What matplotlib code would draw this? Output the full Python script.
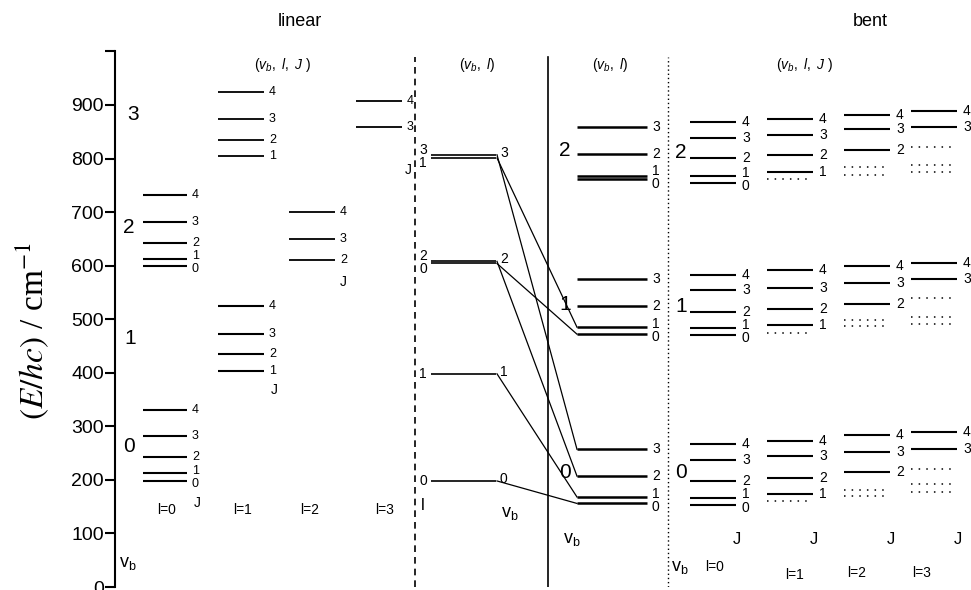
import numpy as np
import matplotlib.pyplot as plt

plt.rcParams['font.family'] = ['Liberation Sans', 'DejaVu Sans']
plt.rcParams['mathtext.fontset'] = 'custom'
plt.rcParams['mathtext.rm'] = 'Liberation Sans'
plt.rcParams['mathtext.it'] = 'Liberation Sans:italic'

# ---- linear: rotational levels (cm-1) for each (v_b, l), index = J
lin_l0_J = [0, 1, 2, 3, 4]
lin_l0_v0 = [198, 212, 243, 282, 331]
lin_l0_v2 = [599, 612, 643, 682, 732]
lin_l1_J = [1, 2, 3, 4]
lin_l1_v1 = [404, 435, 473, 525]
lin_l1_v3 = [804, 835, 873, 925]
lin_l2_J = [2, 3, 4]
lin_l2_v2 = [610, 650, 700]
lin_l3_J = [3, 4]
lin_l3_v3 = [859, 908]

# ---- linear (v_b, l) band origins
mid_v = [0, 1, 2, 2, 3, 3]
mid_l = [0, 1, 0, 2, 1, 3]
mid_E = [198, 398, 604, 608, 801, 807]

# ---- bent (v_b, K) band origins, index = K
bent_K = [0, 1, 2, 3]
bent_vb0 = [156, 168, 207, 257]
bent_vb1 = [472, 485, 524, 575]
bent_vb2 = [761, 767, 809, 859]

# ---- bent: J = 0..4 for each l (J < l drawn dotted)
bent_J = [0, 1, 2, 3, 4]
bent_l0_v0 = [154, 167, 198, 237, 267]
bent_l0_v1 = [471, 484, 513, 555, 583]
bent_l0_v2 = [754, 767, 801, 838, 869]
bent_l1_v0 = [160, 174, 204, 244, 273]
bent_l1_v1 = [475, 490, 519, 558, 591]
bent_l1_v2 = [761, 774, 806, 844, 873]
bent_l2_v0 = [170, 182, 214, 252, 283]
bent_l2_v1 = [488, 498, 529, 568, 599]
bent_l2_v2 = [769, 784, 816, 855, 881]
bent_l3_v0 = [177, 192, 220, 258, 289]
bent_l3_v1 = [491, 505, 539, 575, 604]
bent_l3_v2 = [775, 787, 821, 859, 888]

PX = 0.5356  # pixels per cm-1 (only used to place free text)


def E(py):
    return (587 - py) / PX


def spread(vals, sep=25):
    y = list(vals)
    for _ in range(40):
        for i in range(len(y) - 1):
            if y[i + 1] - y[i] < sep:
                m = (y[i] + y[i + 1]) / 2
                y[i], y[i + 1] = m - sep / 2, m + sep / 2
    return y


def levels(ax, x0, x1, vals, labels=None, lw=1.5, ls='-', lab_x=None,
           ha='left', fs=9):
    for v in vals:
        ax.plot([x0, x1], [v, v], color='black', lw=lw, ls=ls,
                solid_capstyle='butt')
    if labels is not None:
        if lab_x is None:
            lab_x = x1 + 5
        for y, t in zip(spread(vals), labels):
            ax.text(lab_x, y, str(t), fontsize=fs, ha=ha, va='center')


fig = plt.figure(figsize=(9.71, 5.90), dpi=100)
ax = fig.add_axes([115 / 971, 3 / 590, (971 - 115) / 971, 535.6 / 590])
ax.set_xlim(115, 971)
ax.set_ylim(0, 1000)
for s in ['top', 'right', 'bottom']:
    ax.spines[s].set_visible(False)
ax.spines['left'].set_linewidth(1.5)
ax.set_xticks([])
ax.set_yticks(np.arange(0, 1001, 100))
ax.set_yticklabels([str(t) if t < 1000 else '' for t in range(0, 1001, 100)])
ax.tick_params(axis='y', direction='out', length=7, width=1.5, labelsize=14, pad=1)

fig.text(32 / 971, 1 - 331 / 590, r'$(E/hc)$ / cm$^{-1}$', rotation=90,
         ha='center', va='center', fontsize=24, family='Liberation Serif',
         math_fontfamily='stix')

# ---- titles and headers
fig.text(300 / 971, 1 - 22 / 590, 'linear', fontsize=13, ha='center', va='center')
fig.text(870 / 971, 1 - 22 / 590, 'bent', fontsize=13, ha='center', va='center')
hdr = dict(fontsize=10, ha='center', va='center')
ax.text(283, E(65), r'$(v_{b},\ l,\ J\ )$', **hdr)
ax.text(477, E(65), r'$(v_{b},\ l)$', **hdr)
ax.text(610, E(65), r'$(v_{b},\ l)$', **hdr)
ax.text(805, E(65), r'$(v_{b},\ l,\ J\ )$', **hdr)

# ---- separators
ax.plot([415, 415], [0, 990], color='black', lw=1.2, ls=(0, (4, 3)))
ax.plot([548, 548], [0, 990], color='black', lw=1.2)
ax.plot([668, 668], [0, 990], color='black', lw=1.0, ls=(0, (1, 2)))

# ---- linear J levels
levels(ax, 143, 187, lin_l0_v0, lin_l0_J)
levels(ax, 143, 187, lin_l0_v2, lin_l0_J)
levels(ax, 218, 264, lin_l1_v1, lin_l1_J)
levels(ax, 218, 264, lin_l1_v3, lin_l1_J, lw=1.3)
levels(ax, 289, 335, lin_l2_v2, lin_l2_J, lw=1.3)
levels(ax, 356, 402, lin_l3_v3, lin_l3_J, lw=1.3)

big = dict(fontsize=15, ha='center', va='center')
for txt, x, py in [('3', 133, 115), ('2', 129, 228), ('1', 130, 339), ('0', 129, 446)]:
    ax.text(x, E(py), txt, **big)
ax.text(128, E(563), r'v$_{\rm b}$', fontsize=13, ha='center', va='center')
for txt, x in [('l=0', 167), ('l=1', 243), ('l=2', 310), ('l=3', 385)]:
    ax.text(x, E(510), txt, fontsize=10, ha='center', va='center')
for x, py in [(197, 503), (274, 390), (343, 282), (408, 170)]:
    ax.text(x, E(py), 'J', fontsize=10, ha='center', va='center')

# ---- linear (v_b, l) band origins and correlation to bent
order = np.argsort(mid_E)
mE = [mid_E[i] for i in order]
ml = [mid_l[i] for i in order]
levels(ax, 431, 496, mE, ml, lw=1.2, lab_x=427, ha='right', fs=10)
for v in sorted(set(mid_v)):
    e = max(mid_E[i] for i in range(len(mid_E)) if mid_v[i] == v)
    ax.text(500, e + 4, str(v), fontsize=10, ha='left', va='center')
bent_bands = [bent_vb0, bent_vb1, bent_vb2]
for v, l, e in zip(mid_v, mid_l, mid_E):
    # linear (v, l) goes over to bent v_b = (v - l)/2, K = l
    target = bent_bands[(v - l) // 2][l]
    ax.plot([497, 577], [e, target], color='black', lw=0.9)
ax.text(423, E(505), 'l', fontsize=12, ha='center', va='center')
ax.text(510, E(513), r'v$_{\rm b}$', fontsize=13, ha='center', va='center')

# ---- bent (v_b, K) band origins
for band in bent_bands:
    levels(ax, 577, 647, band, bent_K, lw=1.8, lab_x=652, fs=10)
for txt, py in [('2', 151), ('1', 305), ('0', 472)]:
    ax.text(565, E(py), txt, **big)
ax.text(572, E(540), r'v$_{\rm b}$', fontsize=13, ha='center', va='center')

# ---- bent J levels
cols = [(690, [bent_l0_v0, bent_l0_v1, bent_l0_v2]),
        (767, [bent_l1_v0, bent_l1_v1, bent_l1_v2]),
        (844, [bent_l2_v0, bent_l2_v1, bent_l2_v2]),
        (911, [bent_l3_v0, bent_l3_v1, bent_l3_v2])]
for l, (x0, bands) in enumerate(cols):
    for band in bands:
        levels(ax, x0, x0 + 46, band[l:], bent_J[l:], lw=1.5, lab_x=x0 + 52, fs=10)
        if l > 0:
            levels(ax, x0, x0 + 42, band[:l], lw=1.1, ls=(0, (1, 4)))
    ax.text(x0 + 47, E(540), 'J', fontsize=12, ha='center', va='center')
for txt, py in [('2', 153), ('1', 307), ('0', 473)]:
    ax.text(681, E(py), txt, **big)
ax.text(680, E(567), r'v$_{\rm b}$', fontsize=13, ha='center', va='center')
for txt, x, py in [('l=0', 715, 567), ('l=1', 795, 575), ('l=2', 857, 573), ('l=3', 922, 573)]:
    ax.text(x, E(py), txt, fontsize=10, ha='center', va='center')

fig.savefig('out.png', dpi=100)
